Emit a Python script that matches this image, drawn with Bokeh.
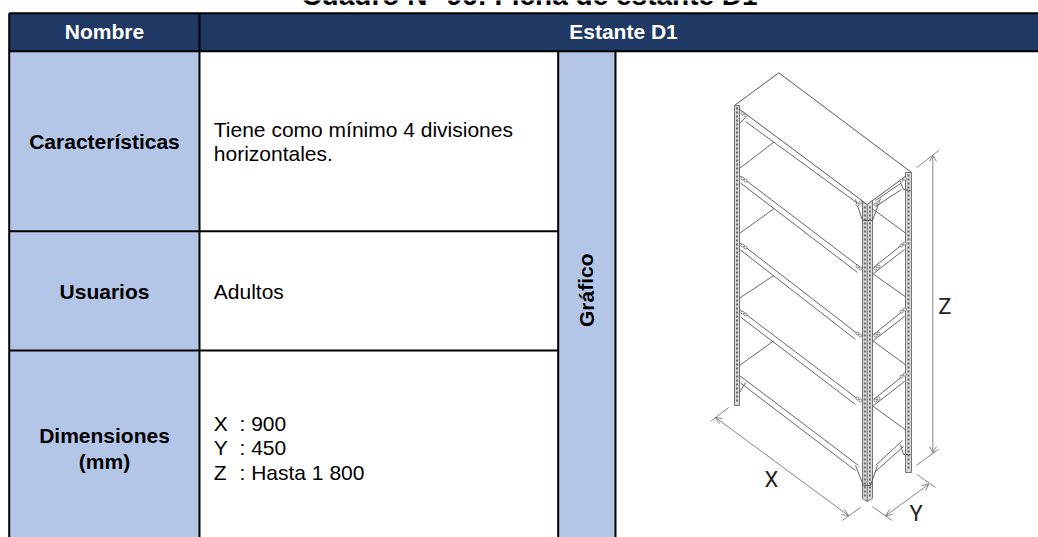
from bokeh.plotting import figure
from bokeh.embed import file_html
from bokeh.resources import INLINE
from bokeh.models import Range1d
from bokeh.core.properties import value

W, H = 1038, 537
FONT = "Liberation Sans"

title_text = "Cuadro N° 96: Ficha de estante D1"
header_left = "Nombre"
header_right = "Estante D1"
row_labels = ["Características", "Usuarios", "Dimensiones", "(mm)"]
row_label_y = [141, 290.7, 435, 461]
side_label = "Gráfico"

body_lines = ["Tiene como mínimo 4 divisiones", "horizontales.", "Adultos"]
body_y = [129, 153, 290.7]
dim_keys = ["X", "Y", "Z"]
dim_values = [": 900", ": 450", ": Hasta 1 800"]
dim_y = [423, 447.3, 471.7]

col_x = [8.7, 199, 557.7, 615]
row_y = [12.7, 50.7, 230.7, 350]

top_board_x = [778.3, 734, 866.7, 910.7, 778.3]
top_board_y = [72.3, 105, 204, 171.7, 72.3]

post_left = [734, 739, 105, 405]
post_right = [905, 911, 172, 472]
post_front_x = [862, 866.7, 872, 872, 866.7, 862]
post_front_y = [201, 204, 200, 498, 501, 498]

top_long_beam = [(745, 121, 856, 202)]
long_beams = [
    (739, 175, 860, 267),
    (739, 242, 858, 334),
    (739, 309, 858, 399),
    (739, 375, 858, 465),
]
short_beams = [
    (875, 200, 900, 183),
    (873, 267, 903, 243),
    (873, 334, 903, 310),
    (873, 399, 903, 375),
    (875, 465, 902, 440),
]
shelf_left = [
    (738.5, 168.3, 773.3, 141.7),
    (738.5, 233.3, 773.3, 208.3),
    (738.5, 298, 773.3, 275),
    (738.5, 365.3, 773.3, 340.3),
]
shelf_right = [
    (872, 208.3, 906, 233.3),
    (872, 273, 906, 297),
    (872, 340, 906, 365),
    (872, 405.3, 906, 430),
]
gussets = [
    (855, 199, 862, 220), (880, 198, 872, 220), (862, 220, 872, 220),
    (855, 465, 863, 485), (877, 465, 870, 485), (863, 485, 870, 485),
    (745, 117, 739, 123), (900, 182, 903, 189), (903, 189, 910, 190),
    (900, 444, 903, 454), (903, 454, 910, 454), (745, 382, 739, 392),
]
joint_x = [742, 745, 742, 745, 742, 745, 742, 745, 857, 860, 857, 860, 857, 860, 857, 860,
           875, 878, 875, 878, 875, 878, 875, 878, 901, 904, 901, 904, 901, 904, 901, 904]
joint_y = [113, 115, 178, 180, 245, 247, 312, 314, 204, 202, 266, 268, 333, 335, 398, 400,
           204, 202, 268, 266, 335, 333, 400, 398, 180, 178, 245, 243, 311, 309, 376, 374]
dim_lines = [
    (932.3, 155, 932.3, 452), (916, 167.3, 938.3, 150), (916, 464.7, 938.3, 448.7),
    (715, 417, 848.3, 515.3), (710, 421, 728.3, 407), (841.7, 520, 860, 507),
    (928.3, 483.7, 885, 515.3), (871.7, 506, 891.7, 520), (916, 473.7, 935, 487),
    (932.3, 155, 929, 161), (932.3, 155, 936, 161), (932.3, 452, 929, 446), (932.3, 452, 936, 446),
    (715, 417, 722, 418), (715, 417, 719, 423), (848.3, 515.3, 841, 514), (848.3, 515.3, 844, 509),
    (928.3, 483.7, 921, 485), (928.3, 483.7, 925, 490), (885, 515.3, 892, 514), (885, 515.3, 889, 509),
]
dim_labels = ["Z", "X", "Y"]
dim_label_x = [944.3, 771, 915.5]
dim_label_y = [306, 479, 513]

p = figure(width=W, height=H, output_backend="svg", toolbar_location=None,
           x_range=Range1d(0, W), y_range=Range1d(H, 0), min_border=0,
           outline_line_color=None, background_fill_color="white")
p.axis.visible = False
p.grid.visible = False

NAVY, BLUE, INK = "#1f3864", "#b4c6e7", "#000000"

p.quad(left=[col_x[0]], right=[W], top=[row_y[0]], bottom=[row_y[1]], fill_color=NAVY, line_color=None)
p.quad(left=[col_x[0]], right=[col_x[1]], top=[row_y[1]], bottom=[H], fill_color=BLUE, line_color=None)
p.quad(left=[col_x[2]], right=[col_x[3]], top=[row_y[1]], bottom=[H], fill_color=BLUE, line_color=None)

p.segment(x0=[col_x[0]], y0=[row_y[0]], x1=[W], y1=[row_y[0]], line_color=INK, line_width=2)
p.segment(x0=[col_x[0]], y0=[row_y[1]], x1=[W], y1=[row_y[1]], line_color=INK, line_width=2)
p.segment(x0=[col_x[0], col_x[1]], y0=[row_y[0], row_y[0]], x1=[col_x[0], col_x[1]], y1=[H, H],
          line_color=INK, line_width=2)
p.segment(x0=[col_x[2], col_x[3]], y0=[row_y[1], row_y[1]], x1=[col_x[2], col_x[3]], y1=[H, H],
          line_color=INK, line_width=2)
p.segment(x0=[col_x[0], col_x[0]], y0=row_y[2:], x1=[col_x[2], col_x[2]], y1=row_y[2:],
          line_color=INK, line_width=2)

def txt(x, y, s, size, color="black", style="normal", align="center", angle=0,
        baseline="middle", font=FONT, y_offset=0):
    p.text(x=[x], y=[y], text=[s], text_font=value(font), text_font_size=f"{size}px",
           text_font_style=style, text_color=color, text_align=align,
           text_baseline=baseline, angle=[angle], y_offset=y_offset)

txt(529, 4.5, title_text, 28, style="bold", baseline="alphabetic", y_offset=-10)
txt(104, 30.7, header_left, 21, "white", "bold")
txt(623, 30.7, header_right, 21, "white", "bold")
for s, y in zip(row_labels, row_label_y):
    txt(104, y, s, 21, style="bold")
txt(585.5, 289.7, side_label, 21, style="bold", angle=1.5708)
for s, y in zip(body_lines, body_y):
    txt(213.3, y, s, 21, align="left")
for k, v, y in zip(dim_keys, dim_values, dim_y):
    txt(213.3, y, k, 21, align="left")
    txt(239, y, v, 21, align="left")

LINE = "#555555"
def segs(items, color=LINE, width=0.9):
    p.segment(x0=[i[0] for i in items], y0=[i[1] for i in items],
              x1=[i[2] for i in items], y1=[i[3] for i in items],
              line_color=color, line_width=width)

segs(shelf_left)
segs(shelf_right)
segs(top_long_beam)
segs(long_beams)
segs([(a + 1, b + 7.5, c - 3, d + 5) for a, b, c, d in long_beams])
segs(short_beams)
segs([(a, b + 6, c + 1, d + 6) for a, b, c, d in short_beams])
p.line(top_board_x, top_board_y, line_color=LINE, line_width=1)

for post in (post_left, post_right):
    p.quad(left=[post[0]], right=[post[1]], top=[post[2]], bottom=[post[3]],
           fill_color="#d9d9d9", line_color=LINE, line_width=0.8)
    mid = (post[0] + post[1]) / 2
    p.segment(x0=[mid], y0=[post[2] + 2], x1=[mid], y1=[post[3] - 3],
              line_color="#666666", line_width=2, line_dash="2 2")

p.patch(post_front_x, post_front_y, fill_color="#d9d9d9", line_color=LINE, line_width=0.8)
for xx in (864.3, 869.4):
    p.segment(x0=[xx], y0=[206], x1=[xx], y1=[497], line_color="#666666", line_width=2, line_dash="2 2")
p.segment(x0=[866.7], y0=[204], x1=[866.7], y1=[501], line_color=LINE, line_width=0.8)

segs(gussets)
p.scatter(joint_x, joint_y, size=3, marker="circle", fill_color="white", line_color=LINE, line_width=0.7)

segs(dim_lines, color="#777777", width=0.9)
for s, x, y in zip(dim_labels, dim_label_x, dim_label_y):
    txt(x, y, s, 22, color="#222222", font="Roboto")

open("out.html", "w").write(file_html(p, INLINE))
